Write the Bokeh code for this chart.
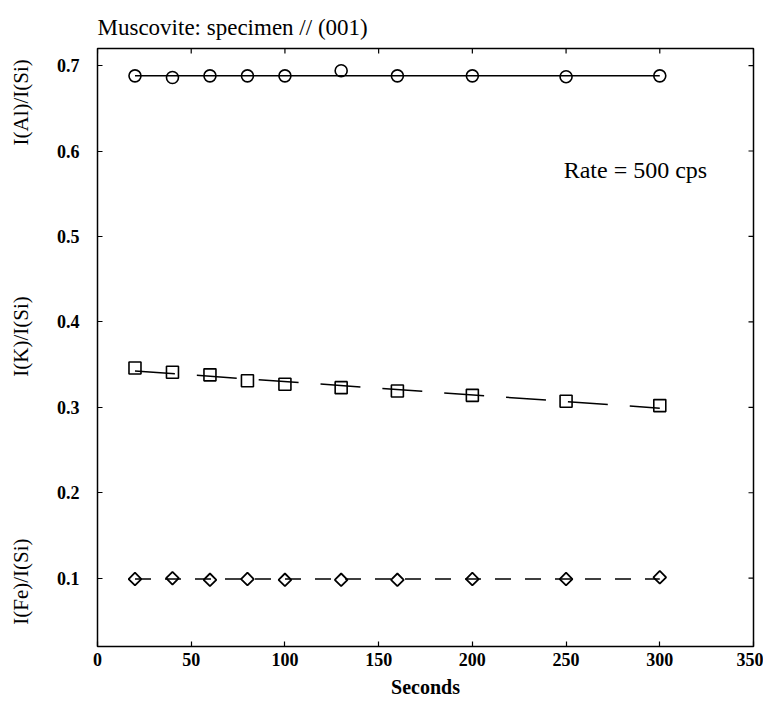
import numpy as np
from bokeh.plotting import figure
from bokeh.models import LinearAxis, Range1d, FixedTicker, Label
from bokeh.embed import file_html
from bokeh.resources import INLINE

# ---- data ----
seconds = [20, 40, 60, 80, 100, 130, 160, 200, 250, 300]
al_si = [0.688, 0.686, 0.688, 0.688, 0.688, 0.694, 0.688, 0.688, 0.687, 0.688]
k_si = [0.346, 0.341, 0.338, 0.331, 0.327, 0.323, 0.319, 0.314, 0.307, 0.302]
fe_si = [0.099, 0.100, 0.098, 0.099, 0.098, 0.098, 0.098, 0.099, 0.099, 0.101]
x_ticks = [0, 50, 100, 150, 200, 250, 300, 350]
y_ticks = [0.1, 0.2, 0.3, 0.4, 0.5, 0.6, 0.7]
y_tick_labels = ["0.1", "0.2", "0.3", "0.4", "0.5", "0.6", "0.7"]
title_text = "Muscovite: specimen // (001)"
x_label = "Seconds"
series_labels = ["I(Al)/I(Si)", "I(K)/I(Si)", "I(Fe)/I(Si)"]
series_label_y = [0.657, 0.383, 0.096]
note_text = "Rate = 500 cps"

FONT = "Liberation Serif"
X_MIN, X_MAX = 0, 350
Y_MIN, Y_MAX = 0.02, 0.72

p = figure(width=763, height=714, output_backend="svg", toolbar_location=None,
           x_range=Range1d(X_MIN, X_MAX), y_range=Range1d(Y_MIN, Y_MAX),
           min_border_left=97, min_border_right=10, min_border_top=48,
           min_border_bottom=68, background_fill_color="white",
           border_fill_color="white")
p.grid.visible = False
p.outline_line_color = "black"
p.outline_line_width = 1.5

# title
p.title.text = title_text
p.title.text_font = FONT
p.title.text_font_size = "23px"
p.title.text_font_style = "normal"
p.title.text_color = "black"
p.title.align = "left"
p.title.standoff = 18


def style_axis(ax):
    ax.axis_line_color = None
    ax.major_tick_in = 5
    ax.major_tick_out = 0
    ax.minor_tick_line_color = None
    ax.major_tick_line_color = "black"
    ax.major_tick_line_width = 1.2
    ax.major_label_text_font = FONT
    ax.major_label_text_font_style = "bold"
    ax.major_label_text_font_size = "18px"
    ax.major_label_text_color = "black"


xb = p.xaxis[0]
xb.ticker = FixedTicker(ticks=x_ticks)
style_axis(xb)
xb.major_label_standoff = 6
xb.axis_label = x_label
xb.axis_label_text_font = FONT
xb.axis_label_text_font_style = "bold"
xb.axis_label_text_font_size = "20px"
xb.axis_label_text_color = "black"
xb.axis_label_standoff = 7

yl = p.yaxis[0]
yl.ticker = FixedTicker(ticks=y_ticks)
yl.major_label_overrides = {t: s for t, s in zip(y_ticks, y_tick_labels)}
style_axis(yl)
yl.major_label_standoff = 18

# second left axis carrying the rotated series labels
ys = LinearAxis(ticker=FixedTicker(ticks=series_label_y))
ys.major_label_overrides = {t: s for t, s in zip(series_label_y, series_labels)}
ys.axis_line_color = None
ys.major_tick_line_color = None
ys.minor_tick_line_color = None
ys.major_tick_in = 0
ys.major_tick_out = 0
ys.major_label_orientation = "vertical"
ys.major_label_text_font = FONT
ys.major_label_text_font_size = "21px"
ys.major_label_text_font_style = "normal"
ys.major_label_text_color = "black"
ys.major_label_standoff = 20
p.add_layout(ys, "left")

# inward ticks on top and right frame edges
p.ray(x=x_ticks, y=[Y_MAX] * len(x_ticks), length=5, length_units="screen",
      angle=-np.pi / 2, line_color="black", line_width=1.2)
p.ray(x=[X_MAX] * len(y_ticks), y=y_ticks, length=5, length_units="screen",
      angle=np.pi, line_color="black", line_width=1.2)

# lines
x0, x1 = seconds[0], seconds[-1]
al_mean = float(np.median(al_si))
p.line([x0, x1], [al_mean, al_mean], line_color="black", line_width=1.5)
slope, icpt = np.polyfit(seconds, k_si, 1)
p.line([x0, x1], [icpt + slope * x0, icpt + slope * x1], line_color="black",
       line_width=1.5, line_dash="40 22")
fe_mean = float(np.mean(fe_si))
p.line([x0, x1], [fe_mean, fe_mean], line_color="black", line_width=1.5,
       line_dash="16 14")

# markers
p.scatter(seconds, al_si, marker="circle", size=12, fill_color=None,
          line_color="black", line_width=1.6)
p.scatter(seconds, k_si, marker="square", size=12, fill_color=None,
          line_color="black", line_width=1.6)
p.scatter(seconds, fe_si, marker="square", size=9, angle=np.pi / 4,
          fill_color=None, line_color="black", line_width=1.8)

# annotation
p.add_layout(Label(x=287, y=0.578, text=note_text, text_font=FONT,
                   text_font_size="24px", text_align="center",
                   text_baseline="middle", text_color="black"))

open("out.html", "w").write(file_html(p, INLINE))
